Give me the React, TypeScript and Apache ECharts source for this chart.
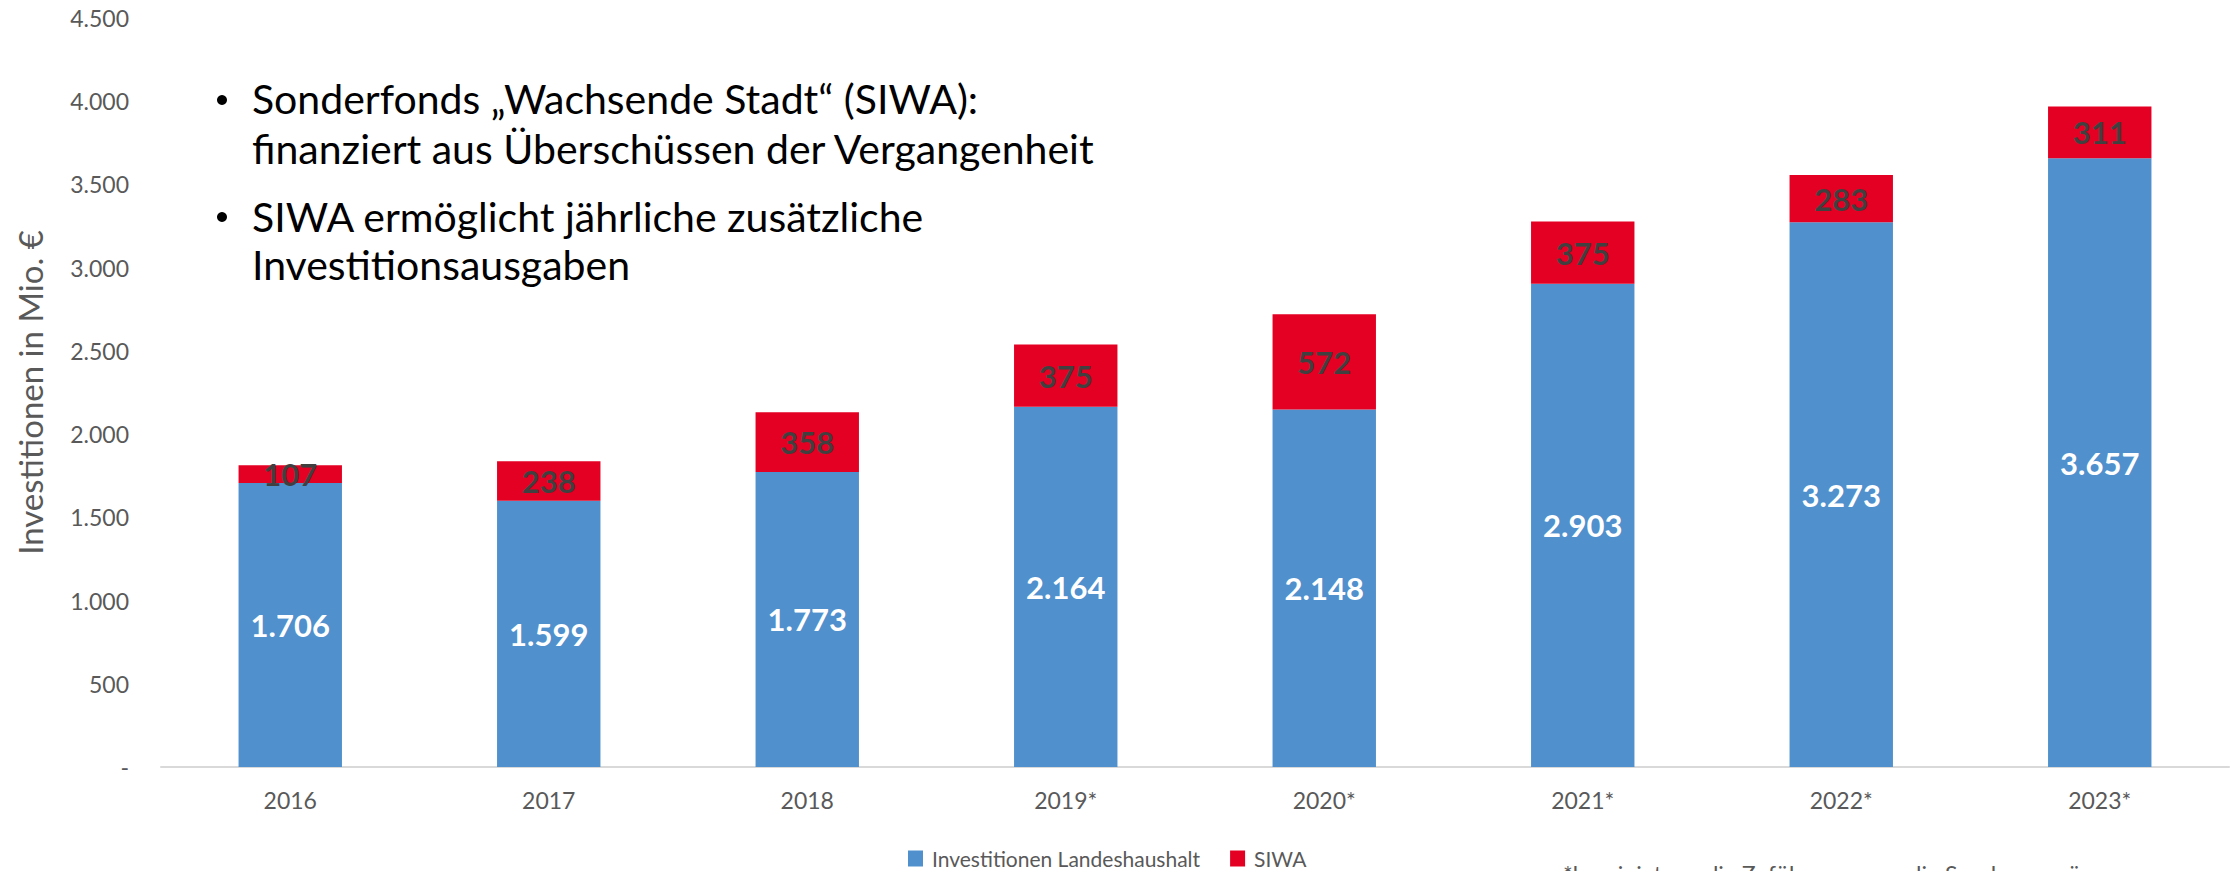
import React, { useEffect, useRef } from "react";
import * as echarts from "echarts";

const categories = ["2016", "2017", "2018", "2019*", "2020*", "2021*", "2022*", "2023*"];
const landeshaushalt = [1706, 1599, 1773, 2164, 2148, 2903, 3273, 3657];
const siwa = [107, 238, 358, 375, 572, 375, 283, 311];
const seriesNames = ["Investitionen Landeshaushalt", "SIWA"];
const yTicks = { min: 0, max: 4500, interval: 500 };
const bulletLines = [
  ["Sonderfonds „Wachsende Stadt“ (SIWA):", "finanziert aus Überschüssen der Vergangenheit"],
  ["SIWA ermöglicht jährliche zusätzliche", "Investitionsausgaben"],
];
const yAxisTitle = "Investitionen in Mio. €";
const footnote = "*bereinigt um die Zuführungen an die Sondervermögen";

const fmt = (v: number) => String(v).replace(/\B(?=(\d{3})+(?!\d))/g, ".");

const FONT = "Lato, 'Noto Sans', sans-serif";

export default function App() {
  const ref = useRef<HTMLDivElement>(null);
  useEffect(() => {
    if (!ref.current) return;
    const chart = echarts.init(ref.current, null, { renderer: "svg" });

    const lineY = [[98, 148], [216, 264]];
    const bulletY = [100, 217];
    const graphics: any[] = [];
    bulletLines.forEach((para, pi) => {
      graphics.push({
        type: "circle",
        shape: { cx: 222, cy: bulletY[pi], r: 5 },
        style: { fill: "#000" },
      });
      para.forEach((line, li) => {
        graphics.push({
          type: "text",
          x: 252,
          y: lineY[pi][li],
          style: {
            text: line,
            fill: "#000",
            font: `41px ${FONT}`,
            verticalAlign: "middle",
            align: "left",
          },
        });
      });
    });
    graphics.push({
      type: "text",
      x: 1563,
      y: 862,
      style: {
        text: footnote,
        fill: "#595959",
        font: `23px ${FONT}`,
        verticalAlign: "top",
        align: "left",
      },
    });

    chart.setOption({
      animation: false,
      textStyle: { fontFamily: FONT },
      grid: { left: 161, right: 5, top: 18, bottom: 104, containLabel: false },
      legend: {
        data: seriesNames,
        left: 908,
        top: 848,
        padding: 0,
        itemWidth: 15,
        itemHeight: 16,
        itemGap: 30,
        icon: "rect",
        textStyle: {
          fontSize: 21,
          lineHeight: 20,
          color: "#595959",
          fontFamily: FONT,
          padding: [0, 0, 0, 4],
        },
      },
      xAxis: {
        type: "category",
        data: categories,
        axisLine: { show: true, lineStyle: { color: "#D9D9D9", width: 2 } },
        axisTick: { show: false },
        axisLabel: { fontSize: 23, color: "#595959", margin: 21, fontFamily: FONT },
      },
      yAxis: {
        type: "value",
        min: yTicks.min,
        max: yTicks.max,
        interval: yTicks.interval,
        name: yAxisTitle,
        nameLocation: "middle",
        nameRotate: 90,
        nameGap: 115,
        nameTextStyle: { fontSize: 33, color: "#595959", fontWeight: "normal", fontFamily: FONT },
        axisLine: { show: false },
        axisTick: { show: false },
        splitLine: { show: false },
        axisLabel: {
          fontSize: 23,
          color: "#595959",
          margin: 32,
          fontFamily: FONT,
          formatter: (v: number) => (v === 0 ? "-" : fmt(v)),
        },
      },
      series: [
        {
          name: seriesNames[0],
          type: "bar",
          stack: "total",
          barWidth: "40%",
          data: landeshaushalt,
          itemStyle: { color: "#4F90CD" },
          label: {
            show: true,
            position: "inside",
            color: "#FFFFFF",
            fontSize: 31,
            fontWeight: "bold",
            fontFamily: FONT,
            formatter: (p: any) => fmt(p.value),
          },
        },
        {
          name: seriesNames[1],
          type: "bar",
          stack: "total",
          barWidth: "40%",
          data: siwa,
          itemStyle: { color: "#E30022" },
          label: {
            show: true,
            position: "inside",
            color: "#404040",
            fontSize: 31,
            fontWeight: "bold",
            fontFamily: FONT,
            formatter: (p: any) => fmt(p.value),
          },
        },
      ],
      graphic: graphics,
    });
    return () => chart.dispose();
  }, []);
  return (
    <div
      ref={ref}
      style={{ position: "fixed", left: 0, top: 0, width: 2234, height: 871, background: "#fff" }}
    />
  );
}
